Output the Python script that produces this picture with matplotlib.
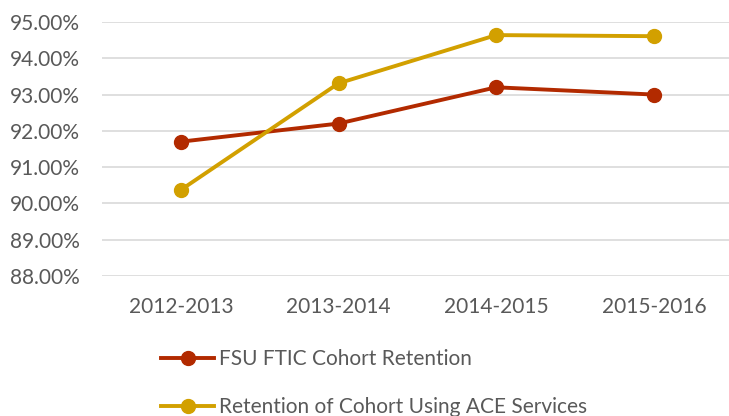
import matplotlib.pyplot as plt
from matplotlib.ticker import FuncFormatter

# Data
years = ["2012-2013", "2013-2014", "2014-2015", "2015-2016"]
fsu_retention = [91.70, 92.20, 93.20, 93.00]
ace_retention = [90.37, 93.31, 94.64, 94.61]

red = "#B22A00"
gold = "#D2A000"
text_color = "#595959"

plt.rcParams["font.family"] = ["Lato", "DejaVu Sans"]

fig = plt.figure(figsize=(7.29, 4.16), dpi=100)
ax = fig.add_axes([0.14, 0.337, 0.865, 0.61])

x = range(len(years))
ax.plot(x, fsu_retention, color=red, lw=2.8, marker="o", ms=10,
        label="FSU FTIC Cohort Retention")
ax.plot(x, ace_retention, color=gold, lw=2.8, marker="o", ms=10,
        label="Retention of Cohort Using ACE Services")

ax.set_xlim(-0.5, len(years) - 0.5)
ax.set_ylim(88, 95)
ax.set_yticks(range(88, 96))
ax.yaxis.set_major_formatter(FuncFormatter(lambda v, p: f"{v:.2f}%"))
ax.set_xticks(list(x))
ax.set_xticklabels(years)

ax.grid(axis="y", color="#D9D9D9", lw=1.2)
ax.set_axisbelow(True)
for s in ax.spines.values():
    s.set_visible(False)
ax.tick_params(axis="both", length=0, labelsize=15, labelcolor=text_color)
ax.tick_params(axis="y", pad=16)
ax.tick_params(axis="x", pad=15)

fig.legend(loc="upper left", bbox_to_anchor=(0.207, 0.186), frameon=False,
           fontsize=15, labelcolor=text_color, handlelength=2.55,
           handletextpad=0.2, labelspacing=1.35, borderpad=0)

fig.savefig("out.png", dpi=100)
